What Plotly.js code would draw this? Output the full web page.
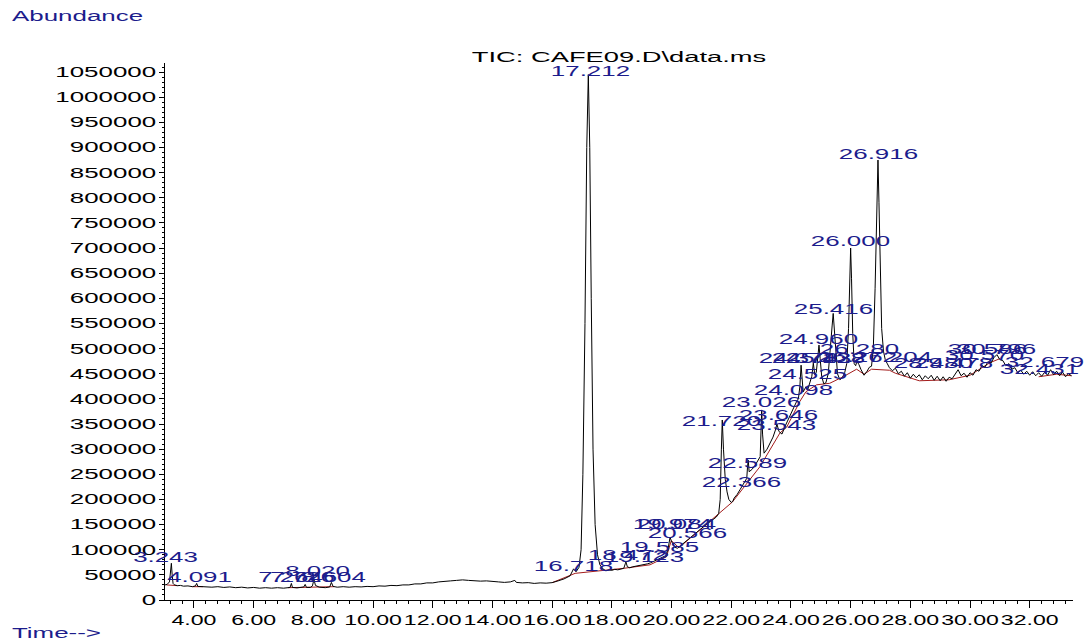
<!DOCTYPE html>
<html>
<head>
<meta charset="utf-8">
<script src="https://cdn.plot.ly/plotly-3.0.1.min.js"></script>
<style>
  html, body { margin: 0; padding: 0; background: #ffffff; }
  #chart { width: 1090px; height: 643px; }
</style>
</head>
<body>
<div id="chart"></div>
<script>
// ---- Data ----
const signalTime = [
  3.03,3.10,3.18,3.22,3.243,3.27,3.30,3.35,3.45,3.55,3.65,3.80,3.95,4.05,4.091,4.13,4.25,4.4,4.6,4.8,
  5.0,5.2,5.4,5.6,5.8,6.0,6.2,6.4,6.6,6.8,7.0,7.15,7.22,7.264,7.30,7.45,7.6,7.68,7.726,7.77,
  7.9,7.97,8.02,8.07,8.2,8.4,8.55,8.604,8.66,8.8,9.0,9.2,9.4,9.6,9.8,10.0,10.2,10.4,10.6,10.8,
  11.0,11.2,11.4,11.6,11.8,12.0,12.2,12.4,12.6,12.8,13.0,13.2,13.4,13.6,13.8,14.0,14.2,14.4,14.6,14.75,
  14.8,15.0,15.2,15.4,15.6,15.8,16.0,16.2,16.4,16.6,16.718,16.8,16.9,16.97,17.03,17.1,17.16,17.212,17.26,17.31,
  17.37,17.44,17.52,17.6,17.7,17.8,17.9,18.0,18.1,18.2,18.3,18.4,18.45,18.472,18.52,18.6,18.7,18.8,18.9,19.0,
  19.1,19.2,19.3,19.4,19.5,19.6,19.7,19.8,19.88,19.95,19.99,20.05,20.1,20.2,20.3,20.4,20.5,20.6,20.7,20.8,
  20.9,21.0,21.1,21.2,21.3,21.4,21.5,21.58,21.63,21.67,21.7,21.74,21.8,21.86,21.92,22.0,22.05,22.1,22.2,22.3,
  22.366,22.45,22.52,22.55,22.57,22.6,22.7,22.8,22.9,22.97,23.0,23.02,23.05,23.1,23.2,23.3,23.4,23.48,23.53,23.6,
  23.7,23.8,23.9,24.0,24.1,24.2,24.25,24.3,24.34,24.37,24.41,24.45,24.5,24.56,24.63,24.7,24.75,24.8,24.85,24.9,
  24.94,24.98,25.03,25.1,25.17,25.25,25.33,25.38,25.416,25.45,25.5,25.56,25.64,25.72,25.8,25.87,25.93,25.97,26.0,26.03,
  26.07,26.12,26.17,26.21,26.28,26.35,26.45,26.55,26.63,26.7,26.76,26.82,26.87,26.916,26.95,26.99,27.04,27.1,27.16,27.22,
  27.3,27.4,27.5,27.6,27.7,27.8,27.9,28.0,28.1,28.2,28.3,28.4,28.5,28.6,28.7,28.8,28.9,29.0,29.1,29.2,
  29.3,29.4,29.5,29.6,29.7,29.8,29.9,30.0,30.1,30.2,30.3,30.4,30.5,30.6,30.7,30.8,30.9,31.0,31.1,31.2,
  31.3,31.4,31.5,31.6,31.7,31.8,31.9,32.0,32.1,32.2,32.3,32.4,32.5,32.6,32.7,32.8,32.9,33.0,33.1,33.2,
  33.3,33.4
];
const signalAbundance = [
  30000,31000,36000,55000,73000,50000,33000,30000,28500,29000,27500,28000,26500,28000,33000,27000,26500,27000,25500,26500,
  25000,26000,24500,25500,24000,25000,23500,24500,23500,24500,23500,24500,25000,33000,25000,24000,24500,26000,31000,25000,
  25000,28000,41000,29000,25500,24500,26000,35000,27000,25500,26500,25500,26500,26000,27000,26500,28000,27500,29000,28500,
  30000,30000,32000,32000,34000,34000,36000,36500,38000,39000,40000,39000,38000,37500,38000,36500,36000,35000,36000,39000,
  35000,34000,34500,33000,34000,33500,34500,38000,42000,48000,62000,56000,65000,100000,250000,550000,900000,1045000,900000,600000,
  300000,150000,90000,70000,62000,58000,60000,59000,61000,60000,62000,63000,72000,76000,66000,64000,66000,67000,68000,70000,
  71000,72000,74000,77000,79000,82000,85000,88000,100000,125000,118000,112000,105000,103000,108000,112000,118000,122000,128000,132000,
  138000,143000,148000,152000,156000,160000,165000,172000,200000,300000,358000,300000,240000,215000,200000,194000,196000,203000,210000,220000,
  226000,234000,242000,268000,278000,255000,260000,268000,278000,285000,340000,378000,330000,292000,300000,312000,324000,338000,350000,335000,
  330000,345000,358000,368000,384000,396000,400000,425000,467000,440000,414000,418000,424000,418000,430000,445000,471000,448000,453000,480000,
  507000,480000,445000,430000,432000,450000,500000,545000,570000,540000,490000,450000,438000,442000,452000,470000,540000,650000,700000,640000,
  530000,470000,466000,475000,468000,458000,447000,455000,463000,465000,500000,620000,780000,875000,790000,650000,540000,495000,478000,471000,
  462000,456000,461000,450000,455000,445000,452000,441000,449000,442000,448000,438000,446000,440000,447000,437000,445000,436000,444000,435000,
  443000,440000,448000,458000,446000,451000,443000,452000,447000,458000,455000,466000,463000,474000,471000,482000,488000,478000,476000,466000,
  470000,459000,462000,452000,457000,449000,455000,447000,454000,446000,452000,445000,453000,447000,458000,448000,455000,446000,453000,444000,
  450000,446000
];

// Integration baseline (dark red), null = gap between segments
const baselineTime = [3.08,3.45,null,3.95,4.3,null,7.15,7.9,8.2,8.7,null,
  16.0,16.77,17.9,18.4,19.28,19.83,19.99,20.25,22.04,22.96,23.63,23.86,24.3,24.5,24.86,25.3,25.75,26.2,26.45,26.7,27.3,27.5,28.3,29.3,30.0,30.67,31.0,null,
  32.3,32.9,33.4];
const baselineAbundance = [30000,28500,null,26500,26500,null,24500,25000,25500,26500,null,
  34500,53000,60000,63000,70000,86000,118000,104000,195000,265000,332000,344000,395000,414000,428000,431000,444000,459000,449000,459000,457000,451000,436000,438000,447000,472000,480000,null,
  444000,449000,446000];

// Peak labels: text, retention time of label centre, abundance of label centre
const labelText = ["3.243","4.091","7.264","7.726","8.020","8.604","16.718","17.212","18.472","19.123","19.585",
  "19.974","20.084","20.566","21.720","22.366","22.589","23.026","23.646","23.543","24.098","24.525","24.378","24.743",
  "25.128","26.262","26.280","27.204","24.960","25.416","26.000","26.916","28.480","29.478","30.570","30.586","30.796","32.679","32.431"];
const labelTime = [3.06,4.20,7.25,7.65,8.14,8.69,16.70,17.27,18.51,19.11,19.61,
  20.02,20.15,20.52,21.66,22.33,22.56,23.03,23.60,23.53,24.07,24.57,24.27,24.70,
  25.17,26.24,26.31,27.41,24.94,25.41,25.98,26.92,28.76,29.43,30.50,30.60,30.90,32.51,32.34];
const labelAbundance = [85500,45700,45700,45700,57700,45700,67600,1052000,89500,85500,105400,
  151000,151000,133000,356000,234600,272000,394000,368000,348000,417600,449000,481000,481000,
  481000,483000,499000,483000,519000,578700,714000,887000,471000,471000,487000,499000,499000,473000,459000];

const xTickValues = [4,6,8,10,12,14,16,18,20,22,24,26,28,30,32];
const yTickValues = [0,50000,100000,150000,200000,250000,300000,350000,400000,450000,500000,
  550000,600000,650000,700000,750000,800000,850000,900000,950000,1000000,1050000];

// ---- Styling ----
const FONT = "Liberation Sans, Arial, sans-serif";
const NAVY = "#1c1c8c";

const traces = [
  { x: baselineTime, y: baselineAbundance, type: "scatter", mode: "lines",
    line: { color: "#a31c1c", width: 1 }, connectgaps: false, hoverinfo: "skip" },
  { x: signalTime, y: signalAbundance, type: "scatter", mode: "lines",
    line: { color: "#000000", width: 1 } }
];

const annotations = labelText.map((t, i) => ({
  x: labelTime[i], y: labelAbundance[i], xref: "x", yref: "y",
  text: t, showarrow: false, xanchor: "center", yanchor: "middle",
  font: { family: FONT, size: 14, color: NAVY }
}));
annotations.push({ x: (10 - 165) / 908, y: (600 - 16) / 537, xref: "paper", yref: "paper",
  text: "Abundance", showarrow: false, xanchor: "left", yanchor: "middle", align: "left",
  font: { family: FONT, size: 14, color: NAVY } });
annotations.push({ x: (10 - 165) / 908, y: (600 - 633) / 537, xref: "paper", yref: "paper",
  text: "Time-->", showarrow: false, xanchor: "left", yanchor: "middle", align: "left",
  font: { family: FONT, size: 14, color: NAVY } });

const layout = {
  width: 1090, height: 643,
  margin: { l: 165, r: 17, t: 63, b: 43, pad: 0 },
  paper_bgcolor: "#ffffff", plot_bgcolor: "#ffffff",
  showlegend: false,
  title: { text: "TIC: CAFE09.D\\data.ms", x: 0.5, xref: "paper", y: 1 - 57 / 643, yanchor: "middle",
    font: { family: FONT, size: 14, color: "#000000" } },
  xaxis: {
    range: [3.03, 33.45], showgrid: false, zeroline: false,
    showline: true, linecolor: "#000000", linewidth: 1,
    tickmode: "array", tickvals: xTickValues, tickformat: ".2f",
    ticks: "outside", ticklen: 7, tickcolor: "#000000", tickwidth: 1,
    minor: { tickmode: "linear", tick0: 4, dtick: 0.4, ticks: "outside", ticklen: 3, tickcolor: "#000000", showgrid: false },
    tickfont: { family: FONT, size: 14, color: "#000000" }
  },
  yaxis: {
    range: [0, 1068000], showgrid: false, zeroline: false,
    showline: true, linecolor: "#000000", linewidth: 1,
    tickmode: "array", tickvals: yTickValues, tickformat: "d",
    ticks: "outside", ticklen: 5, tickcolor: "#000000", tickwidth: 1,
    minor: { tickmode: "linear", tick0: 0, dtick: 10000, ticks: "outside", ticklen: 2, tickcolor: "#000000", showgrid: false },
    tickfont: { family: FONT, size: 14, color: "#000000" }
  },
  annotations: annotations
};

function stretchText() {
  const root = document.getElementById("chart");
  root.querySelectorAll("svg text").forEach(el => {
    el.removeAttribute("textLength");
    el.removeAttribute("lengthAdjust");
    const len = el.getComputedTextLength();
    if (!len) return;
    let k = 1.85;
    if (el.closest(".xtick")) k = 1.65;
    if (el.classList.contains("gtitle")) k = 1.95;
    el.setAttribute("textLength", (len * k).toFixed(1));
    el.setAttribute("lengthAdjust", "spacingAndGlyphs");
  });
}

Plotly.newPlot("chart", traces, layout, { displayModeBar: false, staticPlot: true }).then(stretchText);
</script>
</body>
</html>
